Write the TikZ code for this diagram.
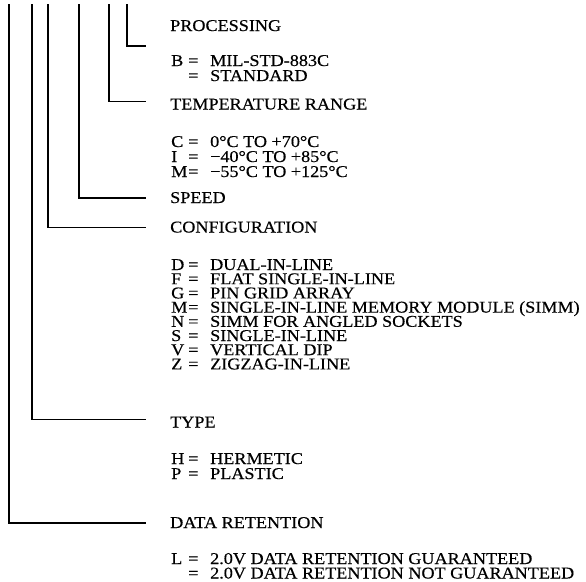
\documentclass[tikz,border=0pt]{standalone}
\usepackage{fontspec}
\setmainfont{Liberation Serif}[FakeStretch=1.1,FakeBold=0.4]
\newcommand{\coderow}[2]{\makebox[17pt][l]{#1}\makebox[22pt][l]{=}#2}

\begin{document}
\begin{tikzpicture}[x=1pt,y=-1pt,
      txt/.style={anchor=base west,inner sep=0pt,text height=11pt,
                  text depth=1pt,font=\fontsize{16.5}{16.5}\selectfont},
      lead/.style={line width=1.8pt}]
    \useasboundingbox (0,0) rectangle (586,581);

    \node[txt] (proc) at (170,31) {PROCESSING};
    \node[txt] (procB) at (171,66) {\coderow{B}{MIL-STD-883C}};
    \node[txt] (procS) at (171,81) {\coderow{}{STANDARD}};

    \node[txt] (temp) at (170,109.5) {TEMPERATURE RANGE};
    \node[txt] (tempC) at (171,147) {\coderow{C}{0°C TO +70°C}};
    \node[txt] (tempI) at (171,162) {\coderow{I}{−40°C TO +85°C}};
    \node[txt] (tempM) at (171,177) {\coderow{M}{−55°C TO +125°C}};

    \node[txt] (speed) at (170,203) {SPEED};

    \node[txt] (conf) at (170,232.5) {CONFIGURATION};
    \node[txt] (confD) at (171,270) {\coderow{D}{DUAL-IN-LINE}};
    \node[txt] (confF) at (171,284.2) {\coderow{F}{FLAT SINGLE-IN-LINE}};
    \node[txt] (confG) at (171,298.4) {\coderow{G}{PIN GRID ARRAY}};
    \node[txt] (confM) at (171,312.6) {\coderow{M}{SINGLE-IN-LINE MEMORY MODULE (SIMM)}};
    \node[txt] (confN) at (171,326.8) {\coderow{N}{SIMM FOR ANGLED SOCKETS}};
    \node[txt] (confS) at (171,341) {\coderow{S}{SINGLE-IN-LINE}};
    \node[txt] (confV) at (171,355.2) {\coderow{V}{VERTICAL DIP}};
    \node[txt] (confZ) at (171,369.4) {\coderow{Z}{ZIGZAG-IN-LINE}};

    \node[txt] (type) at (170,427.5) {TYPE};
    \node[txt] (typeH) at (171,464) {\coderow{H}{HERMETIC}};
    \node[txt] (typeP) at (171,479) {\coderow{P}{PLASTIC}};

    \node[txt] (ret) at (170,528) {DATA RETENTION};
    \node[txt] (retL) at (171,564) {\coderow{L}{2.0V DATA RETENTION GUARANTEED}};
    \node[txt] (retN) at (171,578.5) {\coderow{}{2.0V DATA RETENTION NOT GUARANTEED}};

    % leads from the part number down to each field
    \coordinate (retTop) at (9,4);
    \coordinate (typeTop) at (32,4);
    \coordinate (confTop) at (48,4);
    \coordinate (speedTop) at (79,4);
    \coordinate (tempTop) at (109,4);
    \coordinate (procTop) at (127,4);
    \draw[lead] (procTop) |- ([xshift=-24pt,yshift=-20pt]proc.west);
    \draw[lead] (tempTop) |- ([xshift=-24pt,yshift=3pt]temp.west);
    \draw[lead] (speedTop) |- ([xshift=-24pt]speed.west);
    \draw[lead] (confTop) |- ([xshift=-24pt]conf.west);
    \draw[lead] (typeTop) |- ([xshift=-24pt,yshift=3pt]type.west);
    \draw[lead] (retTop) |- ([xshift=-24pt]ret.west);
\end{tikzpicture}
\end{document}
